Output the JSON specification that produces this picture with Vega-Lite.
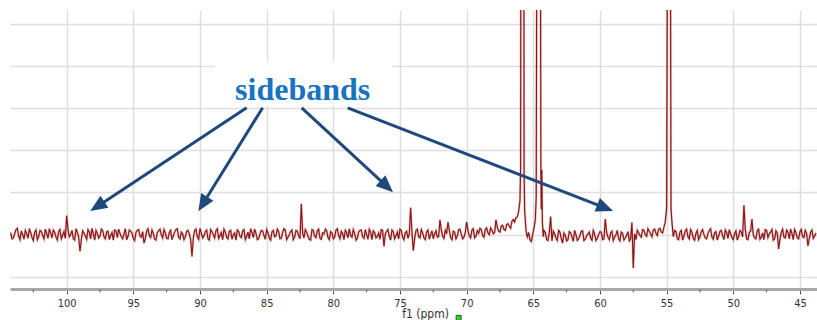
{
  "$schema": "https://vega.github.io/schema/vega-lite/v6.json",
  "width": 807,
  "height": 279,
  "autosize": "none",
  "padding": {"left": 10, "top": 10, "right": 0, "bottom": 31},
  "background": "white",
  "config": {"view": {"stroke": null}},
  "datasets": {
    "spectrum": [
      {"ppm":104.2,"i":0.05},{"ppm":104.0,"i":-0.08},{"ppm":103.8,"i":0.12},{"ppm":103.6,"i":-0.04},{"ppm":103.4,"i":0.09},{"ppm":103.2,"i":-0.11},{"ppm":103.0,"i":0.03},{"ppm":102.8,"i":0.14},{"ppm":102.6,"i":-0.07},{"ppm":102.4,"i":0.06},{"ppm":102.2,"i":-0.12},{"ppm":102.0,"i":0.1},{"ppm":101.8,"i":-0.02},{"ppm":101.6,"i":0.13},{"ppm":101.4,"i":-0.09},{"ppm":101.2,"i":0.04},{"ppm":101.0,"i":0.11},{"ppm":100.8,"i":-0.06},{"ppm":100.6,"i":0.08},{"ppm":100.4,"i":-0.1},{"ppm":100.2,"i":0.07},{"ppm":100.0,"i":0.45},{"ppm":99.8,"i":-0.05},{"ppm":99.6,"i":0.1},{"ppm":99.4,"i":-0.13},{"ppm":99.2,"i":0.06},{"ppm":99.0,"i":-0.4},{"ppm":98.8,"i":0.09},{"ppm":98.6,"i":-0.03},{"ppm":98.4,"i":0.12},{"ppm":98.2,"i":-0.1},{"ppm":98.0,"i":0.02},{"ppm":97.8,"i":0.1},{"ppm":97.6,"i":-0.08},{"ppm":97.4,"i":0.13},{"ppm":97.2,"i":-0.05},{"ppm":97.0,"i":0.07},{"ppm":96.8,"i":-0.12},{"ppm":96.6,"i":0.05},{"ppm":96.4,"i":0.11},{"ppm":96.2,"i":-0.07},{"ppm":96.0,"i":0.03},{"ppm":95.8,"i":-0.1},{"ppm":95.6,"i":0.14},{"ppm":95.4,"i":-0.04},{"ppm":95.2,"i":0.08},{"ppm":95.0,"i":-0.09},{"ppm":94.8,"i":0.06},{"ppm":94.6,"i":0.12},{"ppm":94.4,"i":-0.06},{"ppm":94.2,"i":-0.2},{"ppm":94.0,"i":0.09},{"ppm":93.8,"i":-0.02},{"ppm":93.6,"i":0.11},{"ppm":93.4,"i":-0.11},{"ppm":93.2,"i":0.05},{"ppm":93.0,"i":0.13},{"ppm":92.8,"i":-0.08},{"ppm":92.6,"i":0.04},{"ppm":92.4,"i":-0.1},{"ppm":92.2,"i":0.1},{"ppm":92.0,"i":-0.03},{"ppm":91.8,"i":0.12},{"ppm":91.6,"i":-0.07},{"ppm":91.4,"i":0.06},{"ppm":91.2,"i":-0.12},{"ppm":91.0,"i":0.08},{"ppm":90.8,"i":0.02},{"ppm":90.6,"i":-0.52},{"ppm":90.4,"i":0.1},{"ppm":90.2,"i":-0.05},{"ppm":90.0,"i":0.15},{"ppm":89.8,"i":-0.08},{"ppm":89.6,"i":0.07},{"ppm":89.4,"i":-0.1},{"ppm":89.2,"i":0.12},{"ppm":89.0,"i":0.0},{"ppm":88.8,"i":0.1},{"ppm":88.6,"i":-0.09},{"ppm":88.4,"i":0.05},{"ppm":88.2,"i":0.13},{"ppm":88.0,"i":-0.06},{"ppm":87.8,"i":0.08},{"ppm":87.6,"i":-0.11},{"ppm":87.4,"i":0.04},{"ppm":87.2,"i":0.11},{"ppm":87.0,"i":-0.04},{"ppm":86.8,"i":0.09},{"ppm":86.6,"i":-0.12},{"ppm":86.4,"i":0.06},{"ppm":86.2,"i":0.14},{"ppm":86.0,"i":-0.07},{"ppm":85.8,"i":0.03},{"ppm":85.6,"i":-0.1},{"ppm":85.4,"i":0.1},{"ppm":85.2,"i":-0.02},{"ppm":85.0,"i":0.12},{"ppm":84.8,"i":-0.08},{"ppm":84.6,"i":0.07},{"ppm":84.4,"i":-0.05},{"ppm":84.2,"i":0.13},{"ppm":84.0,"i":-0.1},{"ppm":83.8,"i":0.05},{"ppm":83.6,"i":0.11},{"ppm":83.4,"i":-0.06},{"ppm":83.2,"i":0.08},{"ppm":83.0,"i":-0.12},{"ppm":82.8,"i":0.1},{"ppm":82.6,"i":-0.03},{"ppm":82.4,"i":0.73},{"ppm":82.2,"i":-0.08},{"ppm":82.0,"i":0.06},{"ppm":81.8,"i":-0.11},{"ppm":81.6,"i":0.12},{"ppm":81.4,"i":-0.04},{"ppm":81.2,"i":0.09},{"ppm":81.0,"i":-0.09},{"ppm":80.8,"i":0.04},{"ppm":80.6,"i":0.13},{"ppm":80.4,"i":-0.07},{"ppm":80.2,"i":0.07},{"ppm":80.0,"i":-0.1},{"ppm":79.8,"i":0.11},{"ppm":79.6,"i":-0.02},{"ppm":79.4,"i":0.08},{"ppm":79.2,"i":-0.12},{"ppm":79.0,"i":0.05},{"ppm":78.8,"i":0.14},{"ppm":78.6,"i":-0.06},{"ppm":78.4,"i":0.03},{"ppm":78.2,"i":-0.09},{"ppm":78.0,"i":0.1},{"ppm":77.8,"i":-0.05},{"ppm":77.6,"i":0.12},{"ppm":77.4,"i":-0.11},{"ppm":77.2,"i":0.06},{"ppm":77.0,"i":0.09},{"ppm":76.8,"i":-0.08},{"ppm":76.6,"i":0.04},{"ppm":76.4,"i":0.12},{"ppm":76.2,"i":-0.28},{"ppm":76.0,"i":0.08},{"ppm":75.8,"i":-0.04},{"ppm":75.6,"i":0.11},{"ppm":75.4,"i":-0.1},{"ppm":75.2,"i":0.06},{"ppm":75.0,"i":0.13},{"ppm":74.8,"i":-0.07},{"ppm":74.6,"i":0.05},{"ppm":74.4,"i":-0.09},{"ppm":74.2,"i":0.64},{"ppm":74.0,"i":-0.38},{"ppm":73.8,"i":0.1},{"ppm":73.6,"i":-0.05},{"ppm":73.4,"i":0.12},{"ppm":73.2,"i":-0.08},{"ppm":73.0,"i":0.07},{"ppm":72.8,"i":-0.11},{"ppm":72.6,"i":0.09},{"ppm":72.4,"i":0.02},{"ppm":72.2,"i":-0.06},{"ppm":72.0,"i":0.35},{"ppm":71.8,"i":-0.04},{"ppm":71.6,"i":0.1},{"ppm":71.4,"i":0.3},{"ppm":71.2,"i":-0.07},{"ppm":71.0,"i":0.08},{"ppm":70.8,"i":-0.1},{"ppm":70.6,"i":0.12},{"ppm":70.4,"i":0.01},{"ppm":70.2,"i":-0.06},{"ppm":70.0,"i":0.3},{"ppm":69.8,"i":-0.03},{"ppm":69.6,"i":0.11},{"ppm":69.4,"i":-0.08},{"ppm":69.2,"i":0.09},{"ppm":69.0,"i":0.15},{"ppm":68.8,"i":-0.02},{"ppm":68.6,"i":0.12},{"ppm":68.4,"i":0.04},{"ppm":68.2,"i":0.16},{"ppm":68.0,"i":0.02},{"ppm":67.8,"i":0.35},{"ppm":67.6,"i":0.08},{"ppm":67.4,"i":0.2},{"ppm":67.2,"i":0.12},{"ppm":67.0,"i":0.24},{"ppm":66.8,"i":0.2},{"ppm":66.6,"i":0.32},{"ppm":66.4,"i":0.3},{"ppm":66.3,"i":0.4},{"ppm":66.2,"i":0.42},{"ppm":66.1,"i":0.55},{"ppm":66.0,"i":0.8},{"ppm":65.95,"i":1.6},{"ppm":65.93,"i":8},{"ppm":65.71,"i":8},{"ppm":65.69,"i":1.5},{"ppm":65.65,"i":0.6},{"ppm":65.55,"i":0.1},{"ppm":65.45,"i":-0.05},{"ppm":65.35,"i":0.05},{"ppm":65.25,"i":-0.12},{"ppm":65.15,"i":-0.16},{"ppm":65.05,"i":0.0},{"ppm":64.95,"i":0.15},{"ppm":64.85,"i":0.35},{"ppm":64.78,"i":0.9},{"ppm":64.73,"i":8},{"ppm":64.47,"i":8},{"ppm":64.43,"i":1.5},{"ppm":64.4,"i":0.6},{"ppm":64.36,"i":1.54},{"ppm":64.32,"i":0.3},{"ppm":64.25,"i":-0.05},{"ppm":64.2,"i":0.1},{"ppm":64.0,"i":-0.12},{"ppm":63.8,"i":0.05},{"ppm":63.7,"i":0.43},{"ppm":63.6,"i":-0.15},{"ppm":63.4,"i":0.02},{"ppm":63.2,"i":-0.14},{"ppm":63.0,"i":0.06},{"ppm":62.8,"i":-0.2},{"ppm":62.6,"i":-0.02},{"ppm":62.4,"i":-0.12},{"ppm":62.2,"i":0.05},{"ppm":62.0,"i":-0.16},{"ppm":61.8,"i":0.0},{"ppm":61.6,"i":-0.1},{"ppm":61.4,"i":0.08},{"ppm":61.2,"i":-0.14},{"ppm":61.0,"i":-0.03},{"ppm":60.8,"i":0.06},{"ppm":60.6,"i":-0.13},{"ppm":60.4,"i":0.02},{"ppm":60.2,"i":-0.09},{"ppm":60.0,"i":0.07},{"ppm":59.8,"i":-0.12},{"ppm":59.6,"i":0.37},{"ppm":59.4,"i":-0.06},{"ppm":59.2,"i":0.04},{"ppm":59.0,"i":-0.14},{"ppm":58.8,"i":0.0},{"ppm":58.6,"i":-0.1},{"ppm":58.4,"i":0.06},{"ppm":58.2,"i":-0.13},{"ppm":58.0,"i":-0.02},{"ppm":57.8,"i":-0.15},{"ppm":57.6,"i":0.29},{"ppm":57.5,"i":-0.79},{"ppm":57.4,"i":0.02},{"ppm":57.2,"i":0.1},{"ppm":57.0,"i":-0.02},{"ppm":56.8,"i":0.12},{"ppm":56.6,"i":0.0},{"ppm":56.4,"i":0.14},{"ppm":56.2,"i":0.02},{"ppm":56.0,"i":0.11},{"ppm":55.8,"i":0.03},{"ppm":55.6,"i":0.13},{"ppm":55.4,"i":0.06},{"ppm":55.2,"i":0.18},{"ppm":55.1,"i":0.3},{"ppm":55.0,"i":0.64},{"ppm":54.93,"i":8},{"ppm":54.72,"i":8},{"ppm":54.67,"i":0.6},{"ppm":54.6,"i":0.3},{"ppm":54.5,"i":-0.05},{"ppm":54.4,"i":0.1},{"ppm":54.2,"i":-0.1},{"ppm":54.0,"i":0.06},{"ppm":53.8,"i":-0.13},{"ppm":53.6,"i":0.09},{"ppm":53.4,"i":-0.05},{"ppm":53.2,"i":0.12},{"ppm":53.0,"i":-0.09},{"ppm":52.8,"i":0.03},{"ppm":52.6,"i":-0.12},{"ppm":52.4,"i":0.07},{"ppm":52.2,"i":0.0},{"ppm":52.0,"i":-0.1},{"ppm":51.8,"i":0.1},{"ppm":51.6,"i":-0.06},{"ppm":51.4,"i":0.05},{"ppm":51.2,"i":-0.13},{"ppm":51.0,"i":0.08},{"ppm":50.8,"i":-0.03},{"ppm":50.6,"i":0.11},{"ppm":50.4,"i":-0.09},{"ppm":50.2,"i":0.02},{"ppm":50.0,"i":-0.12},{"ppm":49.8,"i":0.09},{"ppm":49.6,"i":-0.04},{"ppm":49.4,"i":0.06},{"ppm":49.2,"i":0.7},{"ppm":49.0,"i":-0.1},{"ppm":48.8,"i":0.05},{"ppm":48.6,"i":0.37},{"ppm":48.4,"i":-0.08},{"ppm":48.2,"i":0.1},{"ppm":48.0,"i":-0.11},{"ppm":47.8,"i":0.04},{"ppm":47.6,"i":0.12},{"ppm":47.4,"i":-0.07},{"ppm":47.2,"i":0.06},{"ppm":47.0,"i":-0.13},{"ppm":46.8,"i":0.09},{"ppm":46.6,"i":-0.34},{"ppm":46.4,"i":0.05},{"ppm":46.2,"i":-0.06},{"ppm":46.0,"i":0.11},{"ppm":45.8,"i":-0.1},{"ppm":45.6,"i":0.03},{"ppm":45.4,"i":0.12},{"ppm":45.2,"i":-0.08},{"ppm":45.0,"i":0.07},{"ppm":44.8,"i":-0.05},{"ppm":44.6,"i":0.1},{"ppm":44.4,"i":-0.27},{"ppm":44.2,"i":0.06},{"ppm":44.0,"i":-0.09},{"ppm":43.8,"i":0.04},
      {"ppm":104.1,"i":-0.1},{"ppm":103.9,"i":0.02},{"ppm":103.7,"i":0.15},{"ppm":103.5,"i":-0.12},{"ppm":103.3,"i":0.0},{"ppm":103.1,"i":0.1},{"ppm":102.9,"i":-0.09},{"ppm":102.7,"i":0.05},{"ppm":102.5,"i":-0.14},{"ppm":102.3,"i":0.11},{"ppm":102.1,"i":-0.05},{"ppm":101.9,"i":0.08},{"ppm":101.7,"i":-0.1},{"ppm":101.5,"i":0.03},{"ppm":101.3,"i":0.14},{"ppm":101.1,"i":-0.08},{"ppm":100.9,"i":0.06},{"ppm":100.7,"i":-0.13},{"ppm":100.5,"i":0.12},{"ppm":100.3,"i":-0.02},{"ppm":100.1,"i":-0.09},{"ppm":99.9,"i":0.12},{"ppm":99.7,"i":0.0},{"ppm":99.5,"i":-0.1},{"ppm":99.3,"i":0.14},{"ppm":99.1,"i":-0.06},{"ppm":98.9,"i":-0.12},{"ppm":98.7,"i":0.04},{"ppm":98.5,"i":-0.11},{"ppm":98.3,"i":0.07},{"ppm":98.1,"i":0.15},{"ppm":97.9,"i":-0.13},{"ppm":97.7,"i":0.03},{"ppm":97.5,"i":-0.04},{"ppm":97.3,"i":0.1},{"ppm":97.1,"i":-0.1},{"ppm":96.9,"i":0.08},{"ppm":96.7,"i":-0.02},{"ppm":96.5,"i":-0.13},{"ppm":96.3,"i":0.09},{"ppm":96.1,"i":0.13},{"ppm":95.9,"i":-0.05},{"ppm":95.7,"i":0.02},{"ppm":95.5,"i":-0.12},{"ppm":95.3,"i":0.11},{"ppm":95.1,"i":0.04},{"ppm":94.9,"i":-0.14},{"ppm":94.7,"i":0.1},{"ppm":94.5,"i":-0.03},{"ppm":94.3,"i":0.07},{"ppm":94.1,"i":-0.1},{"ppm":93.9,"i":0.14},{"ppm":93.7,"i":-0.07},{"ppm":93.5,"i":0.03},{"ppm":93.3,"i":-0.13},{"ppm":93.1,"i":0.09},{"ppm":92.9,"i":0.0},{"ppm":92.7,"i":0.12},{"ppm":92.5,"i":-0.09},{"ppm":92.3,"i":0.05},{"ppm":92.1,"i":-0.12},{"ppm":91.9,"i":0.06},{"ppm":91.7,"i":0.14},{"ppm":91.5,"i":-0.1},{"ppm":91.3,"i":0.02},{"ppm":91.1,"i":-0.06},{"ppm":90.9,"i":0.1},{"ppm":90.7,"i":-0.12},{"ppm":90.5,"i":-0.08},{"ppm":90.3,"i":0.13},{"ppm":90.1,"i":-0.11},{"ppm":89.9,"i":0.04},{"ppm":89.7,"i":-0.03},{"ppm":89.5,"i":0.11},{"ppm":89.3,"i":-0.13},{"ppm":89.1,"i":0.07},{"ppm":88.9,"i":-0.08},{"ppm":88.7,"i":0.14},{"ppm":88.5,"i":-0.02},{"ppm":88.3,"i":-0.12},{"ppm":88.1,"i":0.06},{"ppm":87.9,"i":-0.1},{"ppm":87.7,"i":0.1},{"ppm":87.5,"i":0.0},{"ppm":87.3,"i":-0.13},{"ppm":87.1,"i":0.08},{"ppm":86.9,"i":-0.07},{"ppm":86.7,"i":0.12},{"ppm":86.5,"i":-0.04},{"ppm":86.3,"i":-0.1},{"ppm":86.1,"i":0.05},{"ppm":85.9,"i":0.13},{"ppm":85.7,"i":-0.12},{"ppm":85.5,"i":0.02},{"ppm":85.3,"i":0.09},{"ppm":85.1,"i":-0.11},{"ppm":84.9,"i":0.04},{"ppm":84.7,"i":-0.13},{"ppm":84.5,"i":0.1},{"ppm":84.3,"i":-0.03},{"ppm":84.1,"i":0.07},{"ppm":83.9,"i":-0.09},{"ppm":83.7,"i":0.14},{"ppm":83.5,"i":-0.12},{"ppm":83.3,"i":0.0},{"ppm":83.1,"i":0.11},{"ppm":82.9,"i":-0.06},{"ppm":82.7,"i":0.08},{"ppm":82.5,"i":-0.1},{"ppm":82.3,"i":0.05},{"ppm":82.1,"i":0.12},{"ppm":81.9,"i":-0.04},{"ppm":81.7,"i":-0.13},{"ppm":81.5,"i":0.1},{"ppm":81.3,"i":-0.07},{"ppm":81.1,"i":0.13},{"ppm":80.9,"i":-0.11},{"ppm":80.7,"i":0.02},{"ppm":80.5,"i":0.09},{"ppm":80.3,"i":-0.12},{"ppm":80.1,"i":0.04},{"ppm":79.9,"i":-0.06},{"ppm":79.7,"i":0.14},{"ppm":79.5,"i":-0.1},{"ppm":79.3,"i":0.03},{"ppm":79.1,"i":0.1},{"ppm":78.9,"i":-0.08},{"ppm":78.7,"i":-0.02},{"ppm":78.5,"i":0.12},{"ppm":78.3,"i":-0.13},{"ppm":78.1,"i":0.06},{"ppm":77.9,"i":0.11},{"ppm":77.7,"i":-0.09},{"ppm":77.5,"i":0.0},{"ppm":77.3,"i":0.13},{"ppm":77.1,"i":-0.12},{"ppm":76.9,"i":0.05},{"ppm":76.7,"i":-0.05},{"ppm":76.5,"i":-0.11},{"ppm":76.3,"i":0.1},{"ppm":76.1,"i":0.02},{"ppm":75.9,"i":0.12},{"ppm":75.7,"i":-0.13},{"ppm":75.5,"i":0.07},{"ppm":75.3,"i":-0.03},{"ppm":75.1,"i":-0.1},{"ppm":74.9,"i":0.1},{"ppm":74.7,"i":-0.12},{"ppm":74.5,"i":0.08},{"ppm":74.3,"i":0.02},{"ppm":74.1,"i":0.05},{"ppm":73.9,"i":-0.1},{"ppm":73.7,"i":0.13},{"ppm":73.5,"i":-0.08},{"ppm":73.3,"i":0.04},{"ppm":73.1,"i":-0.12},{"ppm":72.9,"i":0.11},{"ppm":72.7,"i":0.0},{"ppm":72.5,"i":-0.1},{"ppm":72.3,"i":0.09},{"ppm":72.1,"i":-0.05},{"ppm":71.9,"i":0.12},{"ppm":71.7,"i":-0.09},{"ppm":71.5,"i":0.02},{"ppm":71.3,"i":0.11},{"ppm":71.1,"i":-0.12},{"ppm":70.9,"i":0.06},{"ppm":70.7,"i":-0.04},{"ppm":70.5,"i":0.13},{"ppm":70.3,"i":-0.1},{"ppm":70.1,"i":0.05},{"ppm":69.9,"i":0.1},{"ppm":69.7,"i":-0.08},{"ppm":69.5,"i":0.14},{"ppm":69.3,"i":-0.04},{"ppm":69.1,"i":0.03},{"ppm":68.9,"i":0.12},{"ppm":68.7,"i":-0.06},{"ppm":68.5,"i":0.16},{"ppm":68.3,"i":0.0},{"ppm":68.1,"i":0.1},{"ppm":67.9,"i":0.05},{"ppm":67.7,"i":0.18},{"ppm":67.5,"i":0.06},{"ppm":67.3,"i":0.22},{"ppm":67.1,"i":0.1},{"ppm":66.9,"i":0.26},{"ppm":66.7,"i":0.15},{"ppm":66.5,"i":0.36},
      {"ppm":64.1,"i":0.05},{"ppm":63.9,"i":-0.14},{"ppm":63.5,"i":0.08},{"ppm":63.3,"i":-0.08},{"ppm":63.1,"i":0.1},{"ppm":62.9,"i":-0.1},{"ppm":62.7,"i":0.04},{"ppm":62.5,"i":-0.15},{"ppm":62.3,"i":0.07},{"ppm":62.1,"i":-0.06},{"ppm":61.9,"i":0.1},{"ppm":61.7,"i":-0.14},{"ppm":61.5,"i":-0.02},{"ppm":61.3,"i":0.09},{"ppm":61.1,"i":-0.11},{"ppm":60.9,"i":0.02},{"ppm":60.7,"i":-0.08},{"ppm":60.5,"i":0.1},{"ppm":60.3,"i":-0.14},{"ppm":60.1,"i":0.0},{"ppm":59.9,"i":0.06},{"ppm":59.7,"i":-0.1},{"ppm":59.5,"i":0.05},{"ppm":59.3,"i":-0.12},{"ppm":59.1,"i":0.08},{"ppm":58.9,"i":-0.06},{"ppm":58.7,"i":0.1},{"ppm":58.5,"i":-0.15},{"ppm":58.3,"i":0.03},{"ppm":58.1,"i":-0.08},{"ppm":57.9,"i":0.07},{"ppm":57.7,"i":-0.1},{"ppm":57.3,"i":-0.12},{"ppm":57.1,"i":0.05},{"ppm":56.9,"i":-0.06},{"ppm":56.7,"i":0.1},{"ppm":56.5,"i":-0.04},{"ppm":56.3,"i":0.08},{"ppm":56.1,"i":-0.05},{"ppm":55.9,"i":0.13},{"ppm":55.7,"i":-0.02},{"ppm":55.5,"i":0.15},{"ppm":55.3,"i":0.04},
      {"ppm":54.3,"i":0.08},{"ppm":54.1,"i":-0.12},{"ppm":53.9,"i":0.1},{"ppm":53.7,"i":-0.04},{"ppm":53.5,"i":0.13},{"ppm":53.3,"i":-0.1},{"ppm":53.1,"i":0.06},{"ppm":52.9,"i":-0.13},{"ppm":52.7,"i":0.1},{"ppm":52.5,"i":-0.05},{"ppm":52.3,"i":0.12},{"ppm":52.1,"i":-0.08},{"ppm":51.9,"i":0.03},{"ppm":51.7,"i":0.14},{"ppm":51.5,"i":-0.11},{"ppm":51.3,"i":0.07},{"ppm":51.1,"i":-0.04},{"ppm":50.9,"i":0.1},{"ppm":50.7,"i":-0.12},{"ppm":50.5,"i":0.05},{"ppm":50.3,"i":0.12},{"ppm":50.1,"i":-0.07},{"ppm":49.9,"i":0.02},{"ppm":49.7,"i":-0.13},{"ppm":49.5,"i":0.1},{"ppm":49.3,"i":-0.05},{"ppm":49.1,"i":0.12},{"ppm":48.9,"i":-0.12},{"ppm":48.7,"i":0.08},{"ppm":48.5,"i":0.0},{"ppm":48.3,"i":-0.1},{"ppm":48.1,"i":0.13},{"ppm":47.9,"i":-0.06},{"ppm":47.7,"i":-0.12},{"ppm":47.5,"i":0.1},{"ppm":47.3,"i":0.02},{"ppm":47.1,"i":0.12},{"ppm":46.9,"i":-0.1},{"ppm":46.7,"i":0.04},{"ppm":46.5,"i":-0.12},{"ppm":46.3,"i":0.13},{"ppm":46.1,"i":-0.08},{"ppm":45.9,"i":0.06},{"ppm":45.7,"i":0.13},{"ppm":45.5,"i":-0.12},{"ppm":45.3,"i":0.05},{"ppm":45.1,"i":-0.1},{"ppm":44.9,"i":0.12},{"ppm":44.7,"i":-0.07},{"ppm":44.5,"i":0.03},{"ppm":44.3,"i":-0.1},{"ppm":44.1,"i":0.11},{"ppm":43.9,"i":-0.04}
    ],
    "minor": [
      {"ppm": 102.5}, {"ppm": 97.5}, {"ppm": 92.5}, {"ppm": 87.5}, {"ppm": 82.5}, {"ppm": 77.5},
      {"ppm": 72.5}, {"ppm": 67.5}, {"ppm": 62.5}, {"ppm": 57.5}, {"ppm": 52.5}, {"ppm": 47.5}
    ],
    "arrows": [
      {"id": 1, "x1": 86.5, "y1": 3.01, "x2": 97.7, "y2": 0.669},
      {"id": 2, "x1": 85.3, "y1": 3.01, "x2": 89.79, "y2": 0.726},
      {"id": 3, "x1": 82.37, "y1": 3.01, "x2": 75.99, "y2": 1.144},
      {"id": 4, "x1": 78.92, "y1": 3.01, "x2": 59.61, "y2": 0.634}
    ]
  },
  "layer": [
    {
      "data": {"values": [{"x1": 88.9, "x2": 75.6, "y1": 3.05, "y2": 4.12}]},
      "mark": {"type": "rect", "fill": "white"},
      "encoding": {
        "x": {
          "field": "x1", "type": "quantitative",
          "scale": {"domain": [104.25, 43.72], "nice": false, "zero": false},
          "axis": {
            "values": [100, 95, 90, 85, 80, 75, 70, 65, 60, 55, 50, 45],
            "format": "d",
            "title": "f1 (ppm)",
            "titleFont": "DejaVu Sans Condensed",
            "titleFontSize": 12,
            "titleFontWeight": "normal",
            "titleColor": "#333",
            "titleX": 415,
            "titleY": 28,
            "titleBaseline": "alphabetic",
            "labelFont": "DejaVu Sans Condensed",
            "labelFontSize": 11,
            "labelColor": "#333",
            "labelPadding": 3,
            "labelFlush": false,
            "labelOverlap": false,
            "grid": true,
            "gridColor": "#dedede",
            "gridWidth": 1.5,
            "domainColor": "#a8a8a8",
            "domainWidth": 3,
            "tickColor": "#555",
            "tickWidth": 1,
            "tickSize": 5
          }
        },
        "x2": {"field": "x2"},
        "y": {
          "field": "y1", "type": "quantitative",
          "scale": {"domain": [-1.29, 5.33], "nice": false, "zero": false},
          "axis": {
            "values": [-1, 0, 1, 2, 3, 4, 5],
            "labels": false, "ticks": false, "domain": false, "title": null,
            "grid": true, "gridColor": "#dedede", "gridWidth": 1.5
          }
        },
        "y2": {"field": "y2"}
      }
    },
    {
      "data": {"name": "minor"},
      "mark": {"type": "rule", "color": "#555", "strokeWidth": 1, "clip": false},
      "encoding": {
        "x": {"field": "ppm", "type": "quantitative"},
        "y": {"datum": -1.31},
        "y2": {"datum": -1.37}
      }
    },
    {
      "data": {"name": "spectrum"},
      "mark": {"type": "line", "clip": true, "color": "#b03535", "strokeWidth": 2.2, "opacity": 0.35},
      "encoding": {
        "x": {"field": "ppm", "type": "quantitative"},
        "y": {"field": "i", "type": "quantitative"}
      }
    },
    {
      "data": {"name": "spectrum"},
      "mark": {"type": "line", "clip": true, "color": "#8a1414", "strokeWidth": 1.1},
      "encoding": {
        "x": {"field": "ppm", "type": "quantitative"},
        "y": {"field": "i", "type": "quantitative"}
      }
    },
    {
      "data": {"name": "arrows"},
      "mark": {"type": "rule", "color": "#1F497D", "strokeWidth": 3},
      "encoding": {
        "x": {"field": "x1", "type": "quantitative"},
        "y": {"field": "y1", "type": "quantitative"},
        "x2": {"field": "x2"},
        "y2": {"field": "y2"}
      }
    },
    {
      "data": {"name": "arrows"},
      "transform": [{"filter": "datum.id === 1"}],
      "mark": {"type": "point", "shape": "M0,-1L-0.85,1L0.85,1Z", "filled": true, "color": "#1F497D", "opacity": 1, "size": 289, "angle": 236.6},
      "encoding": {"x": {"field": "x2", "type": "quantitative"}, "y": {"field": "y2", "type": "quantitative"}}
    },
    {
      "data": {"name": "arrows"},
      "transform": [{"filter": "datum.id === 2"}],
      "mark": {"type": "point", "shape": "M0,-1L-0.85,1L0.85,1Z", "filled": true, "color": "#1F497D", "opacity": 1, "size": 289, "angle": 211.9},
      "encoding": {"x": {"field": "x2", "type": "quantitative"}, "y": {"field": "y2", "type": "quantitative"}}
    },
    {
      "data": {"name": "arrows"},
      "transform": [{"filter": "datum.id === 3"}],
      "mark": {"type": "point", "shape": "M0,-1L-0.85,1L0.85,1Z", "filled": true, "color": "#1F497D", "opacity": 1, "size": 289, "angle": 132.7},
      "encoding": {"x": {"field": "x2", "type": "quantitative"}, "y": {"field": "y2", "type": "quantitative"}}
    },
    {
      "data": {"name": "arrows"},
      "transform": [{"filter": "datum.id === 4"}],
      "mark": {"type": "point", "shape": "M0,-1L-0.85,1L0.85,1Z", "filled": true, "color": "#1F497D", "opacity": 1, "size": 289, "angle": 111.2},
      "encoding": {"x": {"field": "x2", "type": "quantitative"}, "y": {"field": "y2", "type": "quantitative"}}
    },
    {
      "data": {"values": [{"x": 82.3, "y": 3.2, "label": "sidebands"}]},
      "mark": {"type": "text", "font": "Liberation Serif", "fontWeight": "bold", "fontSize": 32, "color": "#1874C0", "align": "center", "baseline": "alphabetic"},
      "encoding": {
        "x": {"field": "x", "type": "quantitative"},
        "y": {"field": "y", "type": "quantitative"},
        "text": {"field": "label"}
      }
    },
    {
      "data": {"values": [{"x": 70.6, "y": -1.975}]},
      "mark": {"type": "point", "shape": "square", "filled": true, "fill": "#33cc33", "stroke": "#1a6b1a", "strokeWidth": 1, "size": 25, "opacity": 1},
      "encoding": {
        "x": {"field": "x", "type": "quantitative"},
        "y": {"field": "y", "type": "quantitative"}
      }
    }
  ]
}
